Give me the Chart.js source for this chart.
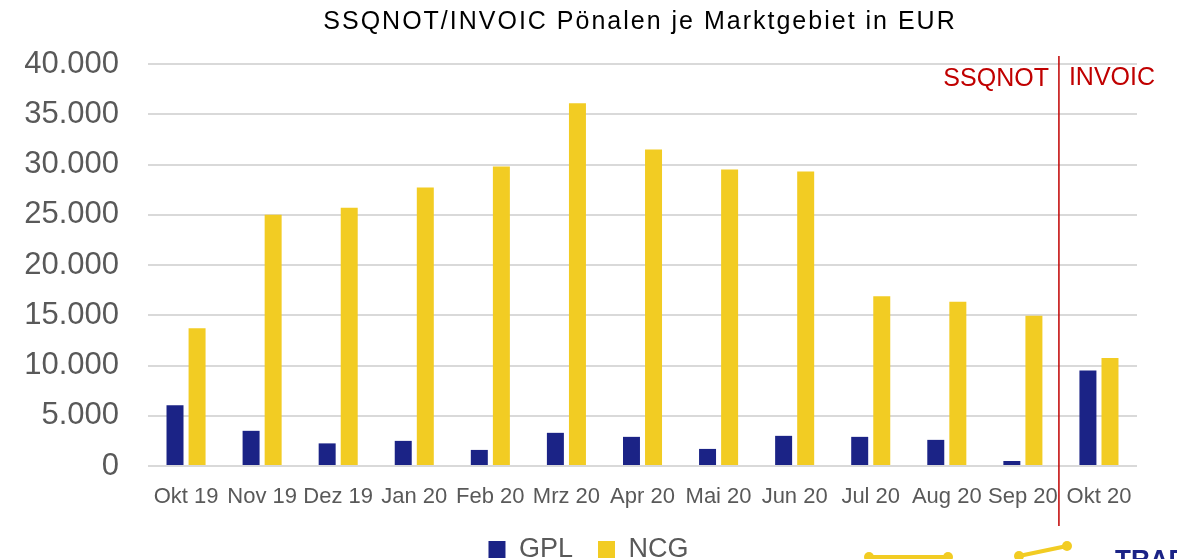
<!DOCTYPE html>
<html>
<head>
<meta charset="utf-8">
<script src="https://cdn.jsdelivr.net/npm/chart.js@4.4.1/dist/chart.umd.min.js"></script>
<style>
  html, body { margin: 0; padding: 0; background: #fff; }
  #wrap { width: 1177px; height: 559px; }
</style>
</head>
<body>
<div id="wrap"><canvas id="chart"></canvas></div>
<script>
// DATEN
const months = ['Okt 19', 'Nov 19', 'Dez 19', 'Jan 20', 'Feb 20', 'Mrz 20', 'Apr 20', 'Mai 20', 'Jun 20', 'Jul 20', 'Aug 20', 'Sep 20', 'Okt 20'];
const gpl = [6050, 3500, 2250, 2500, 1600, 3300, 2900, 1700, 3000, 2900, 2600, 500, 9500];
const ncg = [13700, 25000, 25700, 27700, 29800, 36100, 31500, 29500, 29300, 16900, 16350, 14950, 10750];
const yTicks = [0, 5000, 10000, 15000, 20000, 25000, 30000, 35000, 40000];

const title = 'SSQNOT/INVOIC Pönalen je Marktgebiet in EUR';
const fontName = '"Liberation Sans", Arial, sans-serif';

const fmt = v => String(v).replace(/\B(?=(\d{3})+(?!\d))/g, '.');

// Titel, Trennlinie SSQNOT/INVOIC, Logo-Reste unten
const extras = {
    id: 'extras',
    afterLayout(chart) {
        // Legende mittig auf der ganzen Breite
        chart.legend.left += 10;
        chart.legend.right += 10;
    },
    afterDraw(chart) {
        const ctx = chart.ctx;
        const x = chart.scales.x;
        ctx.save();

        ctx.fillStyle = '#000';
        ctx.font = '25px ' + fontName;
        ctx.letterSpacing = '2px';
        ctx.textAlign = 'center';
        ctx.textBaseline = 'middle';
        ctx.fillText(title, 640, 22);
        ctx.letterSpacing = '0px';

        let sep = (x.getPixelForValue(11) + x.getPixelForValue(12)) / 2 - 2;
        ctx.strokeStyle = '#c00000';
        ctx.lineWidth = 1.5;
        ctx.beginPath();
        ctx.moveTo(sep, 56);
        ctx.lineTo(sep, 526);
        ctx.stroke();

        ctx.fillStyle = '#c00000';
        ctx.font = '25px ' + fontName;
        ctx.textBaseline = 'middle';
        ctx.textAlign = 'right';
        ctx.fillText('SSQNOT', sep - 10, 79);
        ctx.textAlign = 'left';
        ctx.fillText('INVOIC', sep + 10, 78);

        ctx.strokeStyle = '#f2cc23';
        ctx.fillStyle = '#f2cc23';
        ctx.lineWidth = 4;
        ctx.beginPath();
        ctx.moveTo(869, 557);
        ctx.lineTo(948, 557);
        ctx.moveTo(1019, 556);
        ctx.lineTo(1067, 546);
        ctx.stroke();
        [[869, 557], [948, 557], [1019, 556], [1067, 546]].forEach(p => {
            ctx.beginPath();
            ctx.arc(p[0], p[1], 5, 0, Math.PI * 2);
            ctx.fill();
        });
        ctx.fillStyle = '#1b2386';
        ctx.font = 'bold 26px ' + fontName;
        ctx.textAlign = 'left';
        ctx.textBaseline = 'alphabetic';
        ctx.fillText('TRAD', 1115, 568);
        ctx.restore();
    }
};

const ctx = document.getElementById('chart').getContext('2d');
let chart = new Chart(ctx, {
    type: 'bar',
    data: {
        labels: months,
        datasets: [{
            label: 'GPL',
            data: gpl,
            backgroundColor: '#1b2386',
            categoryPercentage: 0.58,
            barPercentage: 0.77
        }, {
            label: 'NCG',
            data: ncg,
            backgroundColor: '#f2cc23',
            categoryPercentage: 0.58,
            barPercentage: 0.77
        }]
    },
    options: {
        responsive: true,
        maintainAspectRatio: false,
        animation: false,
        layout: { padding: { left: 20, right: 40, top: 64, bottom: -14 } },
        plugins: {
            title: { display: false },
            tooltip: { enabled: false },
            legend: {
                position: 'bottom',
                labels: {
                    color: '#595959',
                    font: { family: fontName, size: 27 },
                    boxWidth: 17,
                    boxHeight: 17,
                    padding: 25
                }
            }
        },
        scales: {
            x: {
                grid: { display: false, drawTicks: false },
                border: { display: false },
                afterFit: axis => { axis.height = 45; },
                ticks: {
                    color: '#595959',
                    font: { family: fontName, size: 22 },
                    padding: 18,
                    maxRotation: 0,
                    autoSkip: false
                }
            },
            y: {
                min: 0,
                max: 40000,
                afterBuildTicks: axis => { axis.ticks = yTicks.map(v => ({ value: v })); },
                afterFit: axis => { axis.width = 128; },
                grid: { color: '#d9d9d9', lineWidth: 2, drawTicks: false },
                border: { display: false },
                ticks: {
                    color: '#595959',
                    font: { family: fontName, size: 31 },
                    padding: 29,
                    callback: v => fmt(v)
                }
            }
        }
    },
    plugins: [extras]
});
</script>
</body>
</html>
